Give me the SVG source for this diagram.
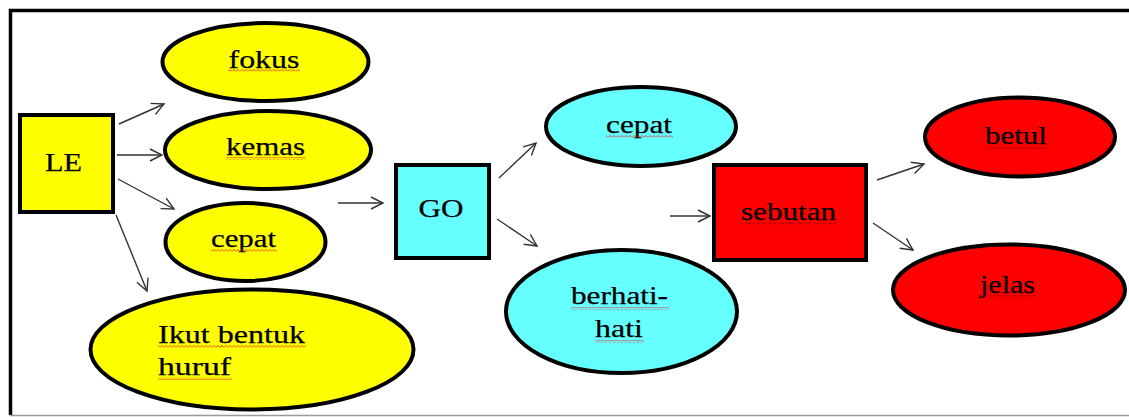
<svg xmlns="http://www.w3.org/2000/svg" width="1129" height="417" viewBox="0 0 1129 417" font-family="'Liberation Serif', 'Times New Roman', serif" font-size="26">
<style>
.shape{stroke:#000;stroke-width:4}
.y{fill:#FFFF00}.c{fill:#66FFFF}.r{fill:#FF0000}
.m{text-anchor:middle}
text{fill:#000;stroke:#000;stroke-width:0.25}
.conn line{stroke:#333;stroke-width:1.4;fill:none}
.sq{fill:url(#sqr)}
.sqd{fill:url(#sqd)}
</style>
<defs>
<marker id="ah" markerUnits="userSpaceOnUse" markerWidth="16" markerHeight="16" viewBox="-14 -8 16 16" refX="0" refY="0" orient="auto">
<path d="M-12,-6 L0,0 L-12,6" fill="none" stroke="#333" stroke-width="1.4"/>
</marker>
<pattern id="sqr" width="4" height="3" patternUnits="userSpaceOnUse">
<path d="M0,2.5 L2,0.5 L4,2.5" fill="none" stroke="#E03030" stroke-width="0.9"/>
</pattern>
<pattern id="sqd" width="4" height="3" patternUnits="userSpaceOnUse">
<path d="M0,2.5 L2,0.5 L4,2.5" fill="none" stroke="#A00000" stroke-width="0.9"/>
</pattern>
</defs>
<rect width="1129" height="417" fill="#fff"/>
<g id="frame">
<line x1="9" y1="10.5" x2="1129" y2="10.5" stroke="#000" stroke-width="3.5"/>
<line x1="10.5" y1="9" x2="10.5" y2="415" stroke="#000" stroke-width="3.5"/>
<line x1="10" y1="415.5" x2="1129" y2="415.5" stroke="#999" stroke-width="1.5"/>
</g>
<g class="conn" id="connectors">
<line x1="119" y1="124" x2="164" y2="104" marker-end="url(#ah)"/>
<line x1="117" y1="155" x2="162" y2="155" marker-end="url(#ah)"/>
<line x1="118" y1="179" x2="174" y2="209" marker-end="url(#ah)"/>
<line x1="116" y1="215" x2="147" y2="291" marker-end="url(#ah)"/>
<line x1="338" y1="203" x2="383" y2="203" marker-end="url(#ah)"/>
<line x1="499" y1="178" x2="536" y2="143" marker-end="url(#ah)"/>
<line x1="497" y1="219" x2="537" y2="246" marker-end="url(#ah)"/>
<line x1="670" y1="216" x2="710" y2="216" marker-end="url(#ah)"/>
<line x1="877" y1="180" x2="924" y2="164" marker-end="url(#ah)"/>
<line x1="873" y1="223" x2="913" y2="250" marker-end="url(#ah)"/>
</g>
<g id="LE">
<rect class="shape y" x="20" y="115" width="93" height="97"/>
<text class="m" x="63.5" y="171" textLength="37" lengthAdjust="spacingAndGlyphs">LE</text>
</g>
<g id="fokus">
<ellipse class="shape y" cx="265.5" cy="62" rx="103" ry="39"/>
<text class="m" x="264" y="68" textLength="71" lengthAdjust="spacingAndGlyphs">fokus</text>
<rect class="sq" x="228" y="69" width="72" height="3"/>
</g>
<g id="kemas">
<ellipse class="shape y" cx="268" cy="150" rx="103" ry="39"/>
<text class="m" x="265.5" y="155" textLength="79" lengthAdjust="spacingAndGlyphs">kemas</text>
<rect class="sq" x="226" y="157" width="80" height="3"/>
</g>
<g id="cepat1">
<ellipse class="shape y" cx="245.5" cy="242" rx="80" ry="39"/>
<text class="m" x="243.5" y="247" textLength="65" lengthAdjust="spacingAndGlyphs">cepat</text>
<rect class="sq" x="211" y="249" width="66" height="3"/>
</g>
<g id="ikut">
<ellipse class="shape y" cx="252" cy="349.5" rx="161.5" ry="60"/>
<text x="158" y="343" textLength="147" lengthAdjust="spacingAndGlyphs">Ikut bentuk</text>
<text x="158" y="375" textLength="73" lengthAdjust="spacingAndGlyphs">huruf</text>
<rect class="sq" x="158" y="345" width="64" height="3"/>
<rect class="sq" x="220" y="345" width="86" height="3"/>
<rect class="sq" x="158" y="377" width="74" height="3"/>
</g>
<g id="GO">
<rect class="shape c" x="396" y="165" width="93" height="93"/>
<text class="m" x="441" y="217" textLength="45" lengthAdjust="spacingAndGlyphs">GO</text>
</g>
<g id="cepat2">
<ellipse class="shape c" cx="641" cy="126.5" rx="95" ry="39.5"/>
<text class="m" x="639" y="133" textLength="66" lengthAdjust="spacingAndGlyphs">cepat</text>
<rect class="sq" x="606" y="135" width="67" height="3"/>
</g>
<g id="berhati">
<ellipse class="shape c" cx="621.5" cy="311.5" rx="115.5" ry="61.5"/>
<text class="m" x="619.5" y="304" textLength="97" lengthAdjust="spacingAndGlyphs">berhati-</text>
<text class="m" x="619" y="337" textLength="48" lengthAdjust="spacingAndGlyphs">hati</text>
<rect class="sq" x="571" y="307" width="98" height="3"/>
<rect class="sq" x="595" y="340" width="49" height="3"/>
</g>
<g id="sebutan">
<rect class="shape r" x="714" y="165" width="152" height="95"/>
<text class="m" x="788.5" y="220" textLength="95" lengthAdjust="spacingAndGlyphs">sebutan</text>
<rect class="sqd" x="741" y="222" width="96" height="3"/>
</g>
<g id="betul">
<ellipse class="shape r" cx="1020" cy="137" rx="95" ry="39.5"/>
<text class="m" x="1016" y="144" textLength="62" lengthAdjust="spacingAndGlyphs">betul</text>
<rect class="sqd" x="985" y="146" width="63" height="3"/>
</g>
<g id="jelas">
<ellipse class="shape r" cx="1009" cy="290" rx="116" ry="45.5"/>
<text class="m" x="1007.5" y="293" textLength="55" lengthAdjust="spacingAndGlyphs">jelas</text>
<rect class="sqd" x="980" y="295" width="56" height="3"/>
</g>
</svg>
